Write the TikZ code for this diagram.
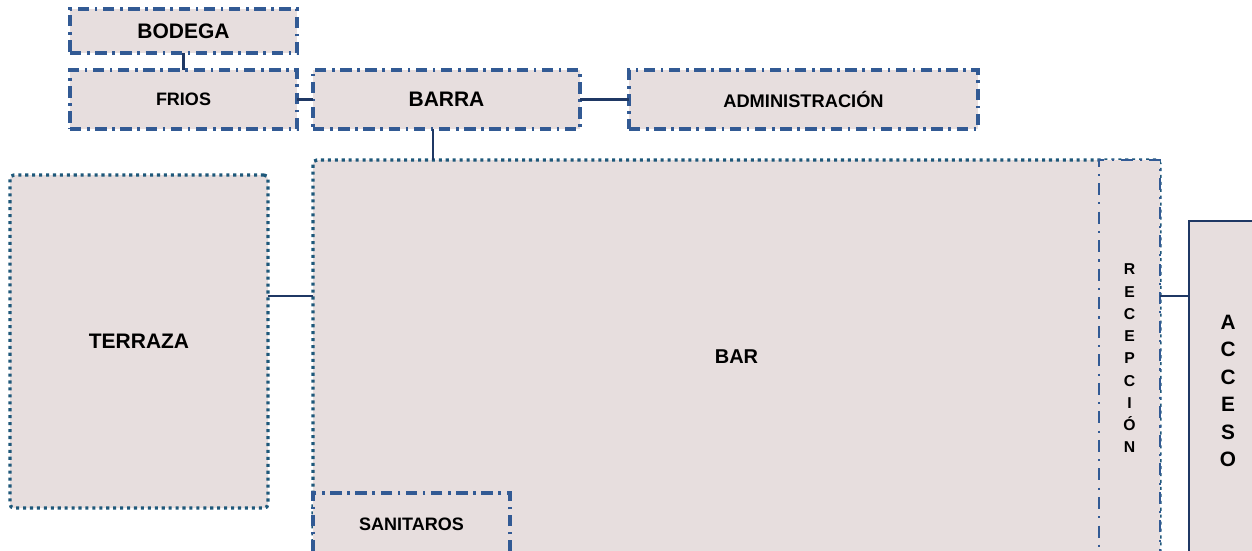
\documentclass[tikz,border=0pt]{standalone}
\usepackage{fontspec}
\setmainfont{Liberation Sans}
\usetikzlibrary{calc}
\definecolor{boxfill}{RGB}{231,222,222}
\definecolor{dashblue}{RGB}{50,90,148}
\definecolor{dotblue}{RGB}{30,88,122}
\definecolor{linknavy}{RGB}{31,56,100}
\begin{document}
\begin{tikzpicture}[x=0.75pt,y=-0.75pt,
 box/.style={fill=boxfill, inner sep=0pt, outer sep=0pt, align=center},
 sz/.style 2 args={minimum width=#1*0.75pt, minimum height=#2*0.75pt},
 fnt/.style={font=\bfseries\fontsize{#1}{#1}\selectfont},
 dashdotbox/.style={box, draw=dashblue, line width=2.4pt, dash pattern=on 8.5pt off 4.2pt on 2pt off 4.2pt},
 thindashdot/.style={box, draw=dashblue, line width=1.6pt, dash pattern=on 9pt off 5.4pt on 1.6pt off 5.4pt},
 dotbox/.style={box, draw=dotblue, line width=2.5pt, dash pattern=on 2.3pt off 2.9pt, rounded corners=3pt},
 solidbox/.style={box, draw=linknavy, line width=1.8pt},
 link/.style={draw=linknavy, line width=2pt},
 ]
\useasboundingbox (0,0) rectangle (1252,550);
\clip (0,0) rectangle (1252,550);

\node[dotbox, sz={258}{333}, fnt=15.75] (terraza) at (139,341.5) {TERRAZA};
\node[dotbox, sz={847}{394}, fnt=15] (bar) at (736.5,357) {BAR};
\node[dashdotbox, sz={197}{63}, fnt=13.5] (sanitaros) at (411.5,524.5) {SANITAROS};
\node[thindashdot, sz={61}{397}, font=\bfseries\fontsize{11.8}{16.7}\selectfont] (recepcion) at (1129.5,358.5) {R\\E\\C\\E\\P\\C\\I\\Ó\\N};
\node[solidbox, sz={78}{340}, font=\bfseries\fontsize{15.6}{20.6}\selectfont] (acceso) at (1228,391) {A\\C\\C\\E\\S\\O};

\node[dashdotbox, sz={227}{44}, fnt=15.75] (bodega) at (183.5,31) {BODEGA};
\node[dashdotbox, sz={227}{59}, fnt=13.5] (frios) at (183.5,99.5) {FRIOS};
\node[dashdotbox, sz={267}{59}, fnt=15.75] (barra) at (446.5,99.5) {BARRA};
\node[dashdotbox, sz={349}{59}, fnt=13.7] (admin) at (803.5,99.5) {ADMINISTRACIÓN};

\path ([xshift=-10.1pt]barra.south) coordinate (b1);
\path (terraza.east) ++(0,-45.5) coordinate (t1);
\path (recepcion.east) ++(0,-62.5) coordinate (r1);

\draw[link] (bodega.south) -- (frios.north);
\draw[link] (frios.east) -- (barra.west);
\draw[link] (barra.east) -- (admin.west);
\draw[link] (b1) -- (b1 |- bar.north);
\draw[link] (t1) -- (t1 -| bar.west);
\draw[link] (r1) -- (r1 -| acceso.west);
\end{tikzpicture}
\end{document}
